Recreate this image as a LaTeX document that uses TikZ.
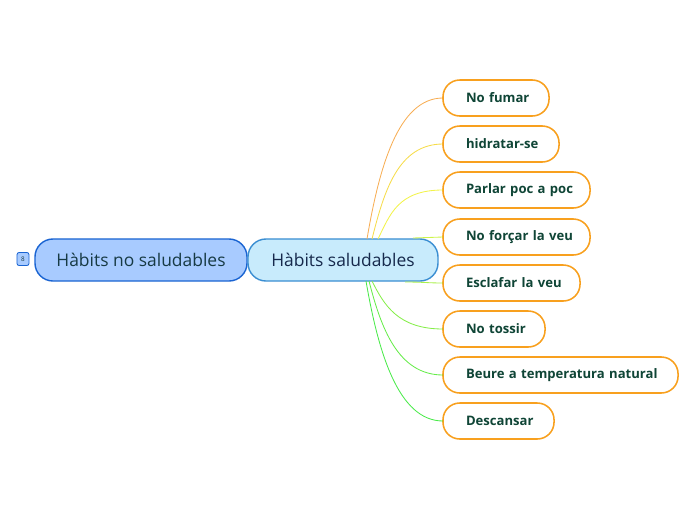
\documentclass[tikz,border=0pt]{standalone}
\usepackage{fontspec}
\setmainfont{Open Sans}
\usepackage{tikz}
\usetikzlibrary{positioning, calc}

\definecolor{nosalfill}{HTML}{A8CBFF}
\definecolor{nosaldraw}{HTML}{1A64D2}
\definecolor{salfill}{HTML}{C8EBFC}
\definecolor{saldraw}{HTML}{3A8ED2}
\definecolor{childdraw}{HTML}{F8A01E}
\definecolor{childtext}{HTML}{0F4536}
\definecolor{maintext}{HTML}{173A44}
\definecolor{subtext}{HTML}{16294C}
\definecolor{lnA}{HTML}{F7AE55}
\definecolor{lnB}{HTML}{F6DC4A}
\definecolor{lnC}{HTML}{F2F34A}
\definecolor{lnD}{HTML}{CDF44A}
\definecolor{lnE}{HTML}{A9F04A}
\definecolor{lnF}{HTML}{86EE4A}
\definecolor{lnG}{HTML}{66EC4A}
\definecolor{lnH}{HTML}{4AEA4A}

\begin{document}
\begin{tikzpicture}[x=0.025cm, y=-0.025cm, outer sep=0pt,
    mainbox/.style={draw, rounded corners=0.45cm, line width=1pt, minimum height=1.05cm, font=\fontsize{12.4}{14}\selectfont, anchor=center},
    childbox/.style={draw=childdraw, fill=white, rounded corners=0.42cm, line width=1.1pt, minimum height=0.9cm, inner xsep=0.575cm, text width=#1, align=left, font=\fontsize{9.3}{11}\selectfont\bfseries, text=childtext, anchor=west, execute at begin node=\hbox\bgroup, execute at end node=\egroup},
    branch/.style={line width=0.6pt}]
    \useasboundingbox (0,0) rectangle (696,520);

    \node (badge) [draw=nosaldraw, fill=nosalfill, rounded corners=1.5pt, line width=0.6pt, minimum width=0.3cm, minimum height=0.325cm, inner sep=0pt, font=\fontsize{4.5}{5}\selectfont, text=maintext] at (23,259) {8};
    \node (nosal) [mainbox, draw=nosaldraw, fill=nosalfill, minimum width=5.3cm, text=maintext] at (141,260) {Hàbits no saludables};
    \node (sal) [mainbox, draw=saldraw, fill=salfill, minimum width=4.75cm, text=subtext] at (343,260) {Hàbits saludables};

    % branches
    \node (fumar) [childbox=1.5cm] at (443,98) {No fumar};
    \node (hidratar) [childbox=1.75cm] at (443,144) {hidratar-se};
    \node (parlar) [childbox=2.525cm] at (443,190) {Parlar poc a poc};
    \node (forcar) [childbox=2.525cm] at (443,237) {No forçar la veu};
    \node (esclafar) [childbox=2.275cm] at (443,283) {Esclafar la veu};
    \node (tossir) [childbox=1.4cm] at (443,329) {No tossir};
    \node (beure) [childbox=4.725cm] at (443,375) {Beure a temperatura natural};
    \node (descansar) [childbox=1.625cm] at (443,421) {Descansar};

    % connectors
    \foreach \n/\dx/\c/\e in {fumar/24/lnA/north, hidratar/29/lnB/north, parlar/35/lnC/north, tossir/29/lnF/south, beure/26/lnG/south, descansar/23/lnH/south}{
        \coordinate (src) at ($(sal.\e)+(\dx,0)$);
        \draw[branch, \c] (src) .. controls ($(src)!0.5!(src|-\n.west)+(12,0)$) and ($(\n.west)+(-45,0)$) .. (\n.west);
    }
    \draw[branch, lnD] ($(sal.north)+(70,-1)$) .. controls ($(sal.north)+(85,-1)$) and ($(forcar.west)+(-15,0)$) .. (forcar.west);
    \draw[branch, lnE] ($(sal.south)+(62,1)$) .. controls ($(sal.south)+(80,1)$) and ($(esclafar.west)+(-15,0)$) .. (esclafar.west);
\end{tikzpicture}
\end{document}
